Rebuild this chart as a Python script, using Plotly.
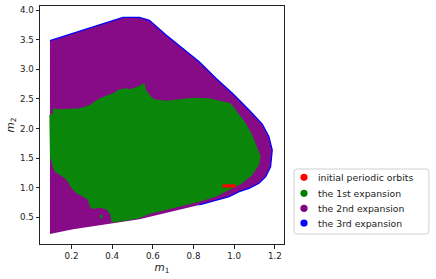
import plotly.graph_objects as go

# Outer boundary of the explored region (m1, m2)
outer_m1 = [0.094, 0.208, 0.322, 0.404, 0.453, 0.534, 0.583, 0.665, 0.746, 0.828, 0.910,
            0.991, 1.073, 1.138, 1.171, 1.187, 1.179, 1.155, 1.122, 1.073, 1.024, 0.975,
            0.828, 0.665, 0.534, 0.371, 0.208, 0.094]
outer_m2 = [3.482, 3.607, 3.730, 3.819, 3.877, 3.877, 3.826, 3.578, 3.353, 3.127, 2.847,
            2.594, 2.312, 2.075, 1.861, 1.636, 1.354, 1.186, 1.074, 0.990, 0.932, 0.848,
            0.708, 0.578, 0.466, 0.382, 0.298, 0.218]

# 1st expansion region boundary
green_m1 = [0.108, 0.143, 0.241, 0.290, 0.339, 0.404, 0.436, 0.469, 0.485, 0.534, 0.559,
            0.566, 0.592, 0.608, 0.665, 0.730, 0.795, 0.877, 0.959, 0.983, 1.008, 1.057,
            1.089, 1.113, 1.130, 1.122, 1.089, 1.040, 0.975, 0.910, 0.828, 0.746, 0.665,
            0.583, 0.534, 0.461, 0.397, 0.392, 0.373, 0.339, 0.304, 0.290, 0.281, 0.257,
            0.224, 0.200, 0.187, 0.167, 0.143, 0.118, 0.110, 0.094, 0.091, 0.108]
green_m2 = [2.337, 2.324, 2.340, 2.396, 2.509, 2.594, 2.661, 2.678, 2.661, 2.717, 2.773,
            2.649, 2.536, 2.492, 2.469, 2.492, 2.519, 2.509, 2.452, 2.425, 2.312, 2.087,
            1.890, 1.692, 1.535, 1.383, 1.214, 1.074, 0.961, 0.848, 0.764, 0.691, 0.623,
            0.556, 0.483, 0.438, 0.412, 0.539, 0.632, 0.662, 0.640, 0.679, 0.792, 0.848,
            0.905, 0.990, 1.074, 1.159, 1.214, 1.270, 1.327, 1.523, 2.227, 2.244]

island_m1 = [0.339, 0.353, 0.353, 0.339]
island_m2 = [0.539, 0.539, 0.488, 0.488]

# 3rd expansion (thin outer layer) - top/right/lower-right edge
blue_m1 = outer_m1[:23]
blue_m2 = outer_m2[:23]

# initial periodic orbits
red_m1 = [0.95, 0.96, 0.97, 0.98, 0.99, 1.00]
red_m2 = [1.03, 1.03, 1.03, 1.03, 1.03, 1.03]

legend_names = ["initial periodic orbits", "the 1st expansion",
                "the 2nd expansion", "the 3rd expansion"]
legend_colors = ["#ff0000", "#008000", "#800080", "#0000ff"]

FONT = "DejaVu Sans"
INK = "#222222"

fig = go.Figure()
fig.add_trace(go.Scatter(x=outer_m1, y=outer_m2, fill="toself", mode="lines",
                         line=dict(width=0), fillcolor="#870a87", name=legend_names[2],
                         showlegend=False, hoverinfo="skip"))
fig.add_trace(go.Scatter(x=blue_m1, y=blue_m2, mode="lines",
                         line=dict(width=1.3, color="#0000ff"), name=legend_names[3],
                         showlegend=False, hoverinfo="skip"))
fig.add_trace(go.Scatter(x=green_m1, y=green_m2, fill="toself", mode="lines",
                         line=dict(width=0), fillcolor="#0a870a", name=legend_names[1],
                         showlegend=False, hoverinfo="skip"))
fig.add_trace(go.Scatter(x=island_m1, y=island_m2, fill="toself", mode="lines",
                         line=dict(width=0), fillcolor="#0a870a", showlegend=False,
                         hoverinfo="skip"))
fig.add_trace(go.Scatter(x=red_m1, y=red_m2, mode="markers", name=legend_names[0],
                         marker=dict(symbol="square", size=3, color="#ff0000",
                                     line=dict(width=0)),
                         showlegend=False, hoverinfo="skip"))

axis_common = dict(showgrid=False, zeroline=False, showline=True, linecolor=INK,
                   linewidth=1, mirror=True, ticks="outside", ticklen=3.5,
                   tickcolor=INK, tickformat=".1f", automargin=False,
                   tickfont=dict(family=FONT, size=8.7, color=INK))

fig.update_xaxes(range=[0.045, 1.245], dtick=0.2, tick0=0.2,
                 title=dict(text="<i>m</i><sub>1</sub>", standoff=3,
                            font=dict(family=FONT, size=10.5, color=INK)),
                 **axis_common)
fig.update_yaxes(range=[0.049, 4.068], dtick=0.5, tick0=0.5,
                 title=dict(text="<i>m</i><sub>2</sub>", standoff=3,
                            font=dict(family=FONT, size=10.5, color=INK)),
                 **axis_common)

# ---- custom legend (matplotlib-like), paper coordinates ----
PW, PH = 244.0, 238.0  # plot area size in px
bx0, bx1, by0, by1 = 1.041, 1.594, 0.042, 0.315
rx, ry = 3 / PW, 3 / PH
path = (f"M {bx0+rx},{by0} L {bx1-rx},{by0} Q {bx1},{by0} {bx1},{by0+ry} "
        f"L {bx1},{by1-ry} Q {bx1},{by1} {bx1-rx},{by1} L {bx0+rx},{by1} "
        f"Q {bx0},{by1} {bx0},{by1-ry} L {bx0},{by0+ry} Q {bx0},{by0} {bx0+rx},{by0} Z")
shapes = [dict(type="path", xref="paper", yref="paper", path=path,
               line=dict(color="#d0d0d0", width=1), fillcolor="rgba(255,255,255,0.8)")]
annotations = []
item_y = [0.280, 0.213, 0.150, 0.088]
mark_x = (304 - 40) / PW
text_x = (316 - 40) / PW
for name, col, yy in zip(legend_names, legend_colors, item_y):
    shapes.append(dict(type="circle", xref="paper", yref="paper",
                       xsizemode="pixel", ysizemode="pixel",
                       xanchor=mark_x, yanchor=yy, x0=-3.6, x1=3.6, y0=-3.6, y1=3.6,
                       fillcolor=col, line=dict(width=0)))
    annotations.append(dict(xref="paper", yref="paper", x=text_x, y=yy,
                            xanchor="left", yanchor="middle", showarrow=False,
                            text=name, font=dict(family=FONT, size=9.3, color=INK)))

fig.update_layout(
    width=436, height=279,
    margin=dict(l=40, r=152, t=6, b=35),
    paper_bgcolor="white", plot_bgcolor="white",
    showlegend=False,
    shapes=shapes, annotations=annotations,
)

fig.write_html("out.html", config={"displayModeBar": False},
               post_script="document.body.style.margin='0';document.body.style.padding='0';")
